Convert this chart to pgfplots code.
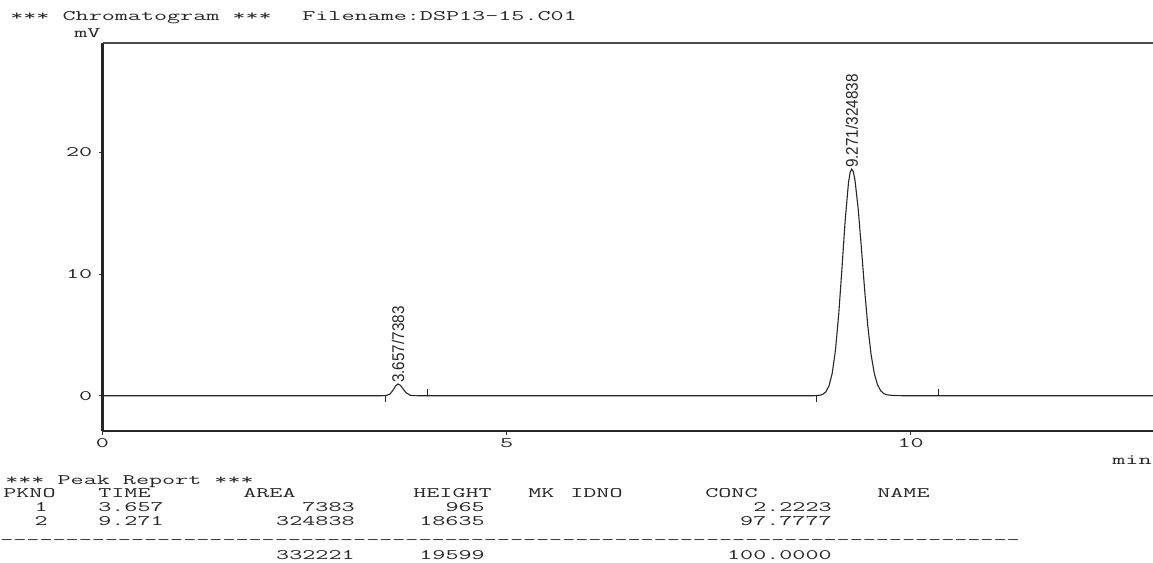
\documentclass[border=0pt]{standalone}
\usepackage{pgfplots}
\pgfplotsset{compat=1.18}
\usepackage{fontspec}
\setmainfont{Liberation Sans}
\newfontfamily\sans{Liberation Sans}
\begin{document}
\begin{tikzpicture}[x=1pt,y=1pt,
  mono/.style={font=\ttfamily\fontsize{14.5}{14.5}\selectfont, xscale=1.75, inner sep=0pt, text=black!85},
  lw/.style={mono, anchor=base west},
  le/.style={mono, anchor=base east}]
\useasboundingbox (0pt,0pt) rectangle (1153pt,562pt);
\clip (0pt,0pt) rectangle (1153pt,562pt);
\begin{axis}[
  at={(102.5pt,131pt)}, anchor=south west,
  scale only axis, width=1050.5pt, height=388pt,
  xmin=0, xmax=13, ymin=-2.9, ymax=29,
  axis x line*=bottom, axis y line*=left,
  axis line style={line width=2.2pt, black!85},
  xtick={0,5,10}, ytick={0,10,20},
  tick align=outside, major tick length=4pt,
  tick style={line width=0.8pt, black!80},
  /pgf/number format/assume math mode=true,
  every tick label/.append style={font=\ttfamily\fontsize{14.5}{14.5}\selectfont, xscale=1.75, text=black!85},
  clip=false,
]
\draw[line width=1.8pt, black!70] (rel axis cs:0,1) -- (rel axis cs:1,1);
% chromatogram trace
\addplot[black!85, line width=1.1pt] coordinates {
 (0,0) (3.45,0) (3.507,0.011) (3.557,0.131) (3.597,0.470) (3.627,0.806)
 (3.657,0.965) (3.687,0.852) (3.717,0.585) (3.757,0.241) (3.807,0.042)
 (3.857,0.004) (3.95,0) (8.80,0)
 (8.871,0.032) (8.911,0.106) (8.951,0.314) (8.991,0.819) (9.031,1.876)
 (9.071,3.785) (9.111,6.718) (9.151,10.497) (9.191,14.438) (9.231,17.484)
 (9.251,18.341) (9.271,18.635) (9.291,18.416) (9.311,17.774) (9.351,15.421)
 (9.391,12.171) (9.431,8.738) (9.471,5.708) (9.511,3.390) (9.551,1.832)
 (9.591,0.900) (9.631,0.403) (9.671,0.164) (9.711,0.070) (9.771,0.030)
 (9.831,0.010) (9.90,0) (13,0)
};
% peak start / end markers
\addplot[black!85, line width=0.9pt] coordinates {(3.506,0) (3.506,-0.55)};
\addplot[black!85, line width=0.9pt] coordinates {(4.022,0) (4.022,0.55)};
\addplot[black!85, line width=0.9pt] coordinates {(8.84,0) (8.84,-0.55)};
\addplot[black!85, line width=0.9pt] coordinates {(10.35,0) (10.35,0.55)};
% peak labels
\node[rotate=90, xscale=0.9, anchor=west, inner sep=1pt, font=\sans\fontsize{17}{17}\selectfont, text=black!85]
  at (axis cs:3.657,0.965) {3.657/7383};
\node[rotate=90, xscale=0.9, anchor=west, inner sep=1pt, font=\sans\fontsize{17}{17}\selectfont, text=black!85]
  at (axis cs:9.271,18.635) {9.271/324838};
\end{axis}
% header
\node[lw] at (10pt,541pt) {*** Chromatogram ***};
\node[lw] at (302pt,541pt) {Filename:DSP13-15.C01};
\node[lw] at (74pt,524pt) {mV};
\node[lw] at (1112pt,97pt) {min};
% peak report
\node[lw] at (5pt,77pt) {*** Peak Report ***};
\node[lw] at (3pt,64pt) {PKNO};
\node[lw] at (98pt,64pt) {TIME};
\node[lw] at (243pt,64pt) {AREA};
\node[lw] at (413pt,64pt) {HEIGHT};
\node[lw] at (528pt,64pt) {MK};
\node[lw] at (570pt,64pt) {IDNO};
\node[lw] at (705pt,64pt) {CONC};
\node[lw] at (877pt,64pt) {NAME};
\node[le] at (48pt,50pt) {1};
\node[lw] at (98pt,50pt) {3.657};
\node[le] at (355pt,50pt) {7383};
\node[le] at (485pt,50pt) {965};
\node[le] at (832pt,50pt) {2.2223};
\node[le] at (48pt,37pt) {2};
\node[lw] at (98pt,37pt) {9.271};
\node[le] at (355pt,37pt) {324838};
\node[le] at (485pt,37pt) {18635};
\node[le] at (832pt,37pt) {97.7777};
\node[lw] at (0pt,18pt) {-{}-{}-{}-{}-{}-{}-{}-{}-{}-{}-{}-{}-{}-{}-{}-{}-{}-{}-{}-{}-{}-{}-{}-{}-{}-{}-{}-{}-{}-{}-{}-{}-{}-{}-{}-{}-{}-{}-{}-{}-{}-{}-{}-{}-{}-{}-{}-{}-{}-{}-{}-{}-{}-{}-{}-{}-{}-{}-{}-{}-{}-{}-{}-{}-{}-{}-{}-{}-{}-{}-{}-{}-{}-{}-{}-{}-{}-{}};
\node[le] at (355pt,3pt) {332221};
\node[le] at (485pt,3pt) {19599};
\node[le] at (832pt,3pt) {100.0000};
\end{tikzpicture}
\end{document}
